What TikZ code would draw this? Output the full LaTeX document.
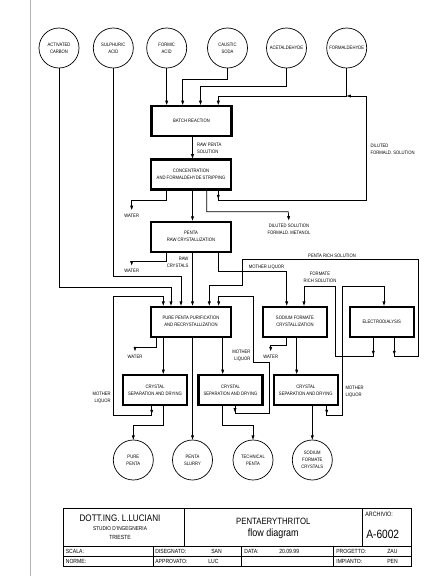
\documentclass[tikz,border=0pt]{standalone}
\usepackage{fontspec}
\setmainfont{Liberation Sans}[FakeStretch=0.85]
\usetikzlibrary{arrows.meta}

\begin{document}
\begin{tikzpicture}[x=0.5mm, y=-0.5mm, line width=1pt,
  every node/.style={font=\fontsize{7}{10}\selectfont}]
\tikzset{
  blk/.style={draw, line width=3pt, minimum width=40mm, minimum height=15mm, inner sep=1pt, align=center},
  sblk/.style={blk, minimum width=32mm},
  src/.style={circle, draw, line width=1pt, minimum size=20mm, inner sep=0pt, align=center},
  lab/.style={inner sep=1pt, align=center},
  arr/.style={-{Triangle[length=6pt,width=4pt]}},
  tb/.style={inner sep=0pt, anchor=west, font=\fontsize{8.5}{10}\selectfont}
}
\useasboundingbox (0,0) rectangle (432,576);

% --- sheet margin ---
\draw[gray!60, line width=1.4pt] (30,0) -- (30,576);

% --- raw materials ---
\node[src] (c1) at (59,48) {ACTIVATED\\CARBON};
\node[src] (c2) at (113.3,48) {SULPHURIC\\ACID};
\node[src] (c3) at (166.7,48) {FORMIC\\ACID};
\node[src] (c4) at (227.5,48) {CAUSTIC\\SODA};
\node[src] (c5) at (286.5,48) {ACETALDEHYDE};
\node[src] (c6) at (346.7,48) {FORMALDEHYDE};

% --- process units ---
\node[blk] (br) at (191.5,121) {BATCH REACTION};
\node[blk] (cs) at (191,174.5) {CONCENTRATION\\AND FORMALDEHYDE STRIPPING};
\node[blk] (rc) at (191,236.7) {PENTA\\RAW CRYSTALLIZATION};
\node[blk] (pp) at (191,321.7) {PURE PENTA PURIFICATION\\AND RECRYSTALLIZATION};
\node[sblk] (sf) at (295,321.7) {SODIUM FORMATE\\CRYSTALLIZATION};
\node[sblk] (ed) at (381.7,321.7) {ELECTRODIALYSIS};
\node[sblk] (s1) at (155,390) {CRYSTAL\\SEPARATION AND DRYING};
\node[sblk] (s2) at (230.5,390) {CRYSTAL\\SEPARATION AND DRYING};
\node[sblk] (s3) at (305.8,390) {CRYSTAL\\SEPARATION AND DRYING};

% --- products ---
\node[src] (p1) at (133.3,460) {PURE\\PENTA};
\node[src] (p2) at (192.5,460) {PENTA\\SLURRY};
\node[src] (p3) at (253,460) {TECHNICAL\\PENTA};
\node[src] (p4) at (312.3,460) {SODIUM\\FORMATE\\CRYSTALS};

% --- feeds to batch reaction ---
\coordinate (jf) at (346.7,96);
\draw[arr] (c3) -- (br.north -| c3);
\draw[arr] (c4) |- (182.7,79.3) -- (br.north -| 182.7,0);
\draw[arr] (c5) |- (200.5,86.7) -- (br.north -| 200.5,0);
\draw[arr] (c6) -- (jf) -| (br.north -| 218.3,0);

% --- reaction and concentration ---
\draw[arr] (br.south -| 192.5,0) -- (cs.north -| 192.5,0);
\node[lab, anchor=west, align=left] (rps) at (196,148) {RAW PENTA\\SOLUTION};
\draw[arr] (cs.south -| 218.3,0) -- (218.3,199);
\draw[arr] (cs.south -| 218.3,0) |- (366.7,200) |- (jf);
\node[lab, anchor=west, align=left] (dfs) at (369.5,149.5) {DILUTED\\FORMALD. SOLUTION};

\node[lab] (w1) at (131.7,215.5) {WATER};
\draw[arr, shorten >=4pt] (cs.south -| 166.7,0) |- (131.7,200) -- (w1.north);
\draw[arr] (cs.south -| 192.5,0) -- (rc.north -| 192.5,0);
\node[lab] (dsol) at (289,229.5) {DILUTED SOLUTION\\FORMALD. METANOL};
\draw[arr, shorten >=4pt] (cs.south -| 206.7,0) |- (288.3,211.7) -- (dsol.north);

% --- raw crystallization ---
\node[lab] (w2) at (131.7,271) {WATER};
\draw[arr, shorten >=4pt] (rc.south -| 166.7,0) |- (131.7,261.7) -- (w2.north);
\draw[arr] (rc.south -| 192.5,0) -- (pp.north -| 192.5,0);
\node[lab, anchor=east, align=right] (rcr) at (189.5,262.5) {RAW\\CRYSTALS};
\draw[arr] (rc.south -| 218.3,0) |- (286.7,271.7) -- (sf.north -| 286.7,0);
\node[lab] (ml0) at (266.5,267) {MOTHER LIQUOR};

% --- additions to purification ---
\draw[arr] (c1) |- (171,287.7) -- (pp.north -| 171,0);
\draw[arr] (c2) |- (181,276.7) -- (pp.north -| 181,0);

% --- electrodialysis ---
\draw[arr] (ed.south -| 394.3,0) -- (394.3,355);
\draw[arr] (ed.south -| 394.3,0) |- (418,356) |- (242.7,259.3) |- (209.3,285) -- (pp.north -| 209.3,0);
\node[lab] (prs) at (332,255.5) {PENTA RICH SOLUTION};
\draw[arr] (ed.south -| 373.3,0) -- (373.3,355);
\draw[arr] (ed.south -| 373.3,0) |- (335,356) |- (304,286) -- (sf.north -| 304,0);
\node[lab] (frs) at (320,277.5) {FORMATE\\RICH SOLUTION};

% --- purification ---
\node[lab] (w3) at (135,356.7) {WATER};
\draw[arr, shorten >=4pt] (pp.south -| 156,0) |- (135,347.5) -- (w3.north);
\draw[arr] (pp.south -| 163.3,0) -- (s1.north -| 163.3,0);
\draw[arr] (pp.south -| 192.5,0) -- (p2);
\draw[arr] (pp.south -| 222.7,0) -- (s2.north -| 222.7,0);

% --- sodium formate ---
\node[lab] (w4) at (270.7,356.7) {WATER};
\draw[arr, shorten >=4pt] (sf.south -| 286,0) |- (270.7,345) -- (w4.north);
\draw[arr] (sf.south -| 296.7,0) -- (s3.north -| 296.7,0);

% --- separation and drying ---
\draw[arr] (s1.south -| 163.3,0) |- (133.3,425) -- (p1);
\draw[arr] (s1.south -| 151.7,0) -- (151.7,414);
\draw[arr] (s1.south -| 151.7,0) |- (113.3,415) |- (163.3,296.7) -- (pp.north -| 163.3,0);
\node[lab, anchor=east, align=right] (ml1) at (111.7,398) {MOTHER\\LIQUOR};

\draw[arr] (s2.south -| 222.3,0) |- (253,425) -- (p3);
\draw[arr] (s2.south -| 235,0) -- (235,412.3);
\draw[arr] (s2.south -| 235,0) |- (269,413.3) |- (253.3,362) |- (218.7,296.7) -- (pp.north -| 218.7,0);
\node[lab, anchor=east, align=right] (ml2) at (251.5,356) {MOTHER\\LIQUOR};

\draw[arr] (s3.south -| 312.3,0) -- (p4);
\draw[arr] (s3.south -| 326.7,0) -- (326.7,414);
\draw[arr] (s3.south -| 326.7,0) |- (342.7,415) |- (384,286) -- (ed.north -| 384,0);
\node[lab, anchor=west, align=left] (ml3) at (344.5,392) {MOTHER\\LIQUOR};

% --- title block ---
\draw[line width=0.9pt] (63.3,508.3) rectangle (411,566);
\draw (63.3,546) -- (411,546);
\draw (63.3,556) -- (411,556);
\draw (184,508.3) -- (184,546);
\draw (362.7,508.3) -- (362.7,546);
\draw (153.3,546) -- (153.3,566);
\draw (241.7,546) -- (241.7,566);
\draw (333.3,546) -- (333.3,566);

\node[inner sep=0pt, font=\fontsize{13.5}{14}\selectfont] (t1) at (120,518) {DOTT.ING. L.LUCIANI};
\node[inner sep=0pt, font=\fontsize{8}{9}\selectfont] (t2) at (120,528.5) {STUDIO D'INGEGNERIA};
\node[inner sep=0pt, font=\fontsize{8.5}{9}\selectfont] (t3) at (120,537.5) {TRIESTE};
\node[inner sep=0pt, font=\fontsize{13}{14}\selectfont] (t4) at (273.3,521.5) {PENTAERYTHRITOL};
\node[inner sep=0pt, font=\fontsize{15}{16}\selectfont] (t5) at (273.3,534) {flow diagram};
\node[tb, font=\fontsize{9}{10}\selectfont] (t6) at (365,514.5) {ARCHIVIO:};
\node[tb, font=\fontsize{17}{18}\selectfont] (t7) at (366,534) {A-6002};

\node[tb] (r1) at (65.5,551) {SCALA:};
\node[tb] (r2) at (65.5,561) {NORME:};
\node[tb] (r3) at (155,551) {DISEGNATO:};
\node[tb] (r4) at (211,551) {SAN};
\node[tb] (r5) at (155,561) {APPROVATO:};
\node[tb] (r6) at (208,561) {LUC};
\node[tb] (r7) at (244,551) {DATA:};
\node[tb] (r8) at (279,551) {20.09.99};
\node[tb] (r9) at (336,551) {PROGETTO:};
\node[tb] (r10) at (387,551) {ZAU};
\node[tb] (r11) at (336,561) {IMPIANTO:};
\node[tb] (r12) at (387,561) {PEN};
\end{tikzpicture}
\end{document}
